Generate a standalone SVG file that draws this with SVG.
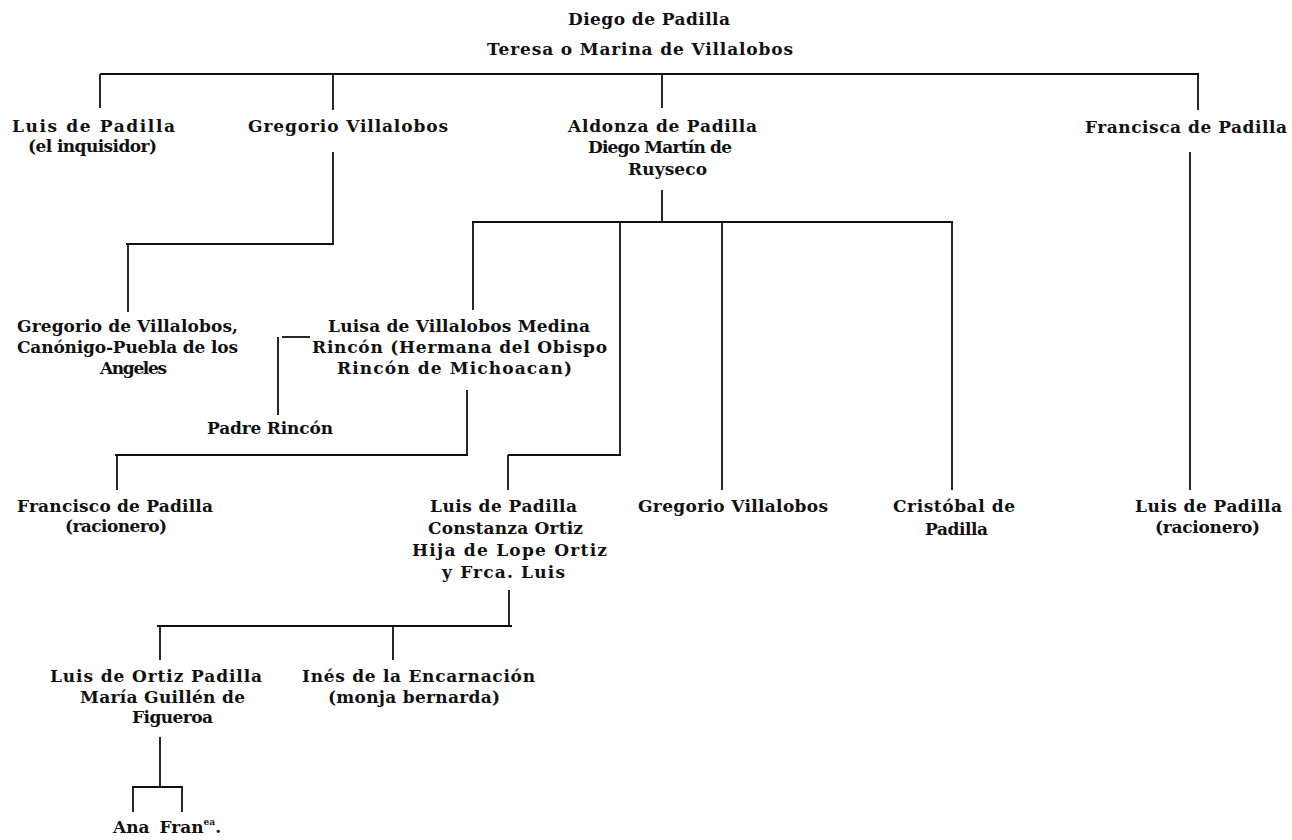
<svg xmlns="http://www.w3.org/2000/svg" width="1292" height="840" viewBox="0 0 1292 840">
<style>
  text { font-family: "DejaVu Serif", "Liberation Serif", serif; font-weight: bold; font-size: 17px; fill: #111; }
  .c line { stroke: #111; stroke-width: 1.8; }
</style>
<rect width="1292" height="840" fill="#fff"/>
<g class="c" id="connectors">
  <line x1="100" y1="74" x2="1199" y2="74"/>
  <line x1="100" y1="74" x2="100" y2="108"/>
  <line x1="333" y1="74" x2="333" y2="110"/>
  <line x1="662" y1="74" x2="662" y2="108"/>
  <line x1="1198" y1="74" x2="1198" y2="110"/>
  <line x1="333" y1="152" x2="333" y2="244"/>
  <line x1="126" y1="244" x2="334" y2="244"/>
  <line x1="128" y1="244" x2="128" y2="312"/>
  <line x1="1190" y1="152" x2="1190" y2="490"/>
  <line x1="662" y1="190" x2="662" y2="222"/>
  <line x1="472" y1="222" x2="953" y2="222"/>
  <line x1="473" y1="222" x2="473" y2="310"/>
  <line x1="620" y1="222" x2="620" y2="455"/>
  <line x1="722" y1="222" x2="722" y2="490"/>
  <line x1="952" y1="222" x2="952" y2="490"/>
  <line x1="282" y1="337" x2="310" y2="337"/>
  <line x1="278" y1="337" x2="278" y2="415"/>
  <line x1="467" y1="390" x2="467" y2="455"/>
  <line x1="115" y1="455" x2="468" y2="455"/>
  <line x1="117" y1="455" x2="117" y2="490"/>
  <line x1="508" y1="455" x2="621" y2="455"/>
  <line x1="508" y1="455" x2="508" y2="490"/>
  <line x1="509" y1="590" x2="509" y2="626"/>
  <line x1="157" y1="626" x2="512" y2="626"/>
  <line x1="160" y1="626" x2="160" y2="660"/>
  <line x1="393" y1="626" x2="393" y2="660"/>
  <line x1="160" y1="737" x2="160" y2="787"/>
  <line x1="132" y1="787" x2="183" y2="787"/>
  <line x1="133" y1="787" x2="133" y2="812"/>
  <line x1="182" y1="787" x2="182" y2="812"/>
</g>
<g id="n-diego">
  <text x="568" y="25" textLength="162">Diego de Padilla</text>
</g>
<g id="n-teresa">
  <text x="487" y="55" textLength="306">Teresa o Marina de Villalobos</text>
</g>
<g id="n-luis-inquisidor">
  <text x="12" y="132" textLength="163">Luis de Padilla</text>
  <text x="28" y="152" textLength="129">(el inquisidor)</text>
</g>
<g id="n-gregorio-1">
  <text x="248" y="132" textLength="200">Gregorio Villalobos</text>
</g>
<g id="n-aldonza">
  <text x="568" y="132" textLength="189">Aldonza de Padilla</text>
  <text x="588" y="153" textLength="144">Diego Martín de</text>
  <text x="628" y="175" textLength="79">Ruyseco</text>
</g>
<g id="n-francisca">
  <text x="1085" y="133" textLength="202">Francisca de Padilla</text>
</g>
<g id="n-gregorio-canonigo">
  <text x="17" y="332" textLength="221">Gregorio de Villalobos,</text>
  <text x="17" y="353" textLength="221">Canónigo-Puebla de los</text>
  <text x="100" y="374" textLength="67">Angeles</text>
</g>
<g id="n-luisa">
  <text x="328" y="332" textLength="262">Luisa de Villalobos Medina</text>
  <text x="312" y="353" textLength="295">Rincón (Hermana del Obispo</text>
  <text x="337" y="374" textLength="235">Rincón de Michoacan)</text>
</g>
<g id="n-padre-rincon">
  <text x="207" y="434" textLength="126">Padre Rincón</text>
</g>
<g id="n-francisco">
  <text x="17" y="512" textLength="196">Francisco de Padilla</text>
  <text x="65" y="532" textLength="102">(racionero)</text>
</g>
<g id="n-luis-constanza">
  <text x="430" y="512" textLength="147">Luis de Padilla</text>
  <text x="428" y="534" textLength="155">Constanza Ortiz</text>
  <text x="412" y="556" textLength="195">Hija de Lope Ortiz</text>
  <text x="442" y="578" textLength="123">y Frca. Luis</text>
</g>
<g id="n-gregorio-2">
  <text x="638" y="512" textLength="190">Gregorio Villalobos</text>
</g>
<g id="n-cristobal">
  <text x="893" y="512" textLength="122">Cristóbal de</text>
  <text x="925" y="535" textLength="63">Padilla</text>
</g>
<g id="n-luis-racionero">
  <text x="1135" y="512" textLength="147">Luis de Padilla</text>
  <text x="1155" y="533" textLength="105">(racionero)</text>
</g>
<g id="n-luis-ortiz">
  <text x="50" y="682" textLength="212">Luis de Ortiz Padilla</text>
  <text x="80" y="703" textLength="165">María Guillén de</text>
  <text x="132" y="723" textLength="81">Figueroa</text>
</g>
<g id="n-ines">
  <text x="302" y="682" textLength="233">Inés de la Encarnación</text>
  <text x="328" y="703" textLength="172">(monja bernarda)</text>
</g>
<g id="n-ana">
  <text x="113" y="833" word-spacing="4">Ana Fran<tspan font-size="9" dy="-8">ea</tspan><tspan dy="8">.</tspan></text>
</g>
</svg>
